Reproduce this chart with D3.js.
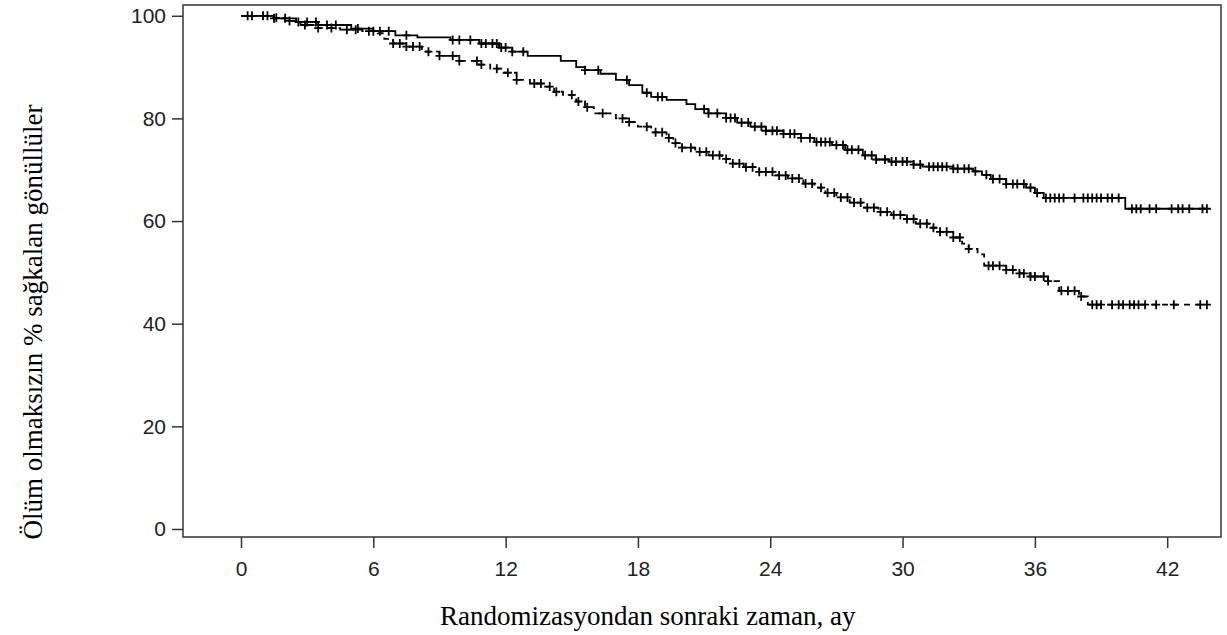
<!DOCTYPE html>
<html>
<head>
<meta charset="utf-8">
<script src="https://cdn.jsdelivr.net/npm/d3@7"></script>
<style>
  body { margin: 0; background: #fff; }
  .tick text { font-family: "Liberation Sans", Arial, sans-serif; font-size: 21px; fill: #222; }
  .ttl { font-family: "Liberation Serif", "Times New Roman", serif; font-size: 27px; fill: #000; }
</style>
</head>
<body>
<svg id="chart" width="1227" height="635"></svg>
<script>
// step points [months, % surviving]
var solidSteps = [[0,100],[1.5,99.5],[2.5,98.8],[3.5,98.2],[5,97.5],[6,97],[7,96.2],[8,95.8],[9.5,95.3],[10.8,94.6],[11.7,93.8],[12.3,93],[13,92.2],[14.5,91.2],[15.2,90],[15.6,89.4],[16.3,88.7],[17,87.5],[17.6,86.5],[18.2,85],[18.6,84.2],[19.3,83.6],[20.2,82.8],[20.6,81.8],[21.2,81],[22,80.1],[22.5,79.2],[23.1,78.4],[23.8,77.6],[24.6,77],[25.4,76.2],[26,75.4],[26.8,74.8],[27.4,73.9],[28.2,72.8],[28.8,72],[29.4,71.6],[30.5,71],[30.9,70.6],[32.3,70.2],[33.2,69.7],[33.6,69],[34,68.2],[34.7,67.2],[35.6,66.5],[36,65.5],[36.4,64.5],[40.1,62.4]];
var dashedSteps = [[0,100],[1.5,99.6],[2,99],[2.7,98.2],[3.3,97.6],[4.5,97.3],[5.5,97],[6.2,96.6],[6.5,95.5],[6.9,94.6],[7.5,94],[8.2,93],[9,92.2],[9.9,91.2],[10.8,90.5],[11.3,89.7],[11.9,88.9],[12.5,87.5],[13.1,86.8],[13.7,86.2],[14.2,85.2],[14.6,84.6],[15.2,83.3],[15.6,82.2],[16,81],[17,80],[17.6,79.3],[18,78.4],[18.6,77.3],[19.3,76.2],[19.6,75.2],[20,74.3],[20.6,73.5],[21.2,72.8],[21.8,72.1],[22.3,71.2],[22.8,70.5],[23.5,69.6],[24.2,68.9],[24.8,68.3],[25.5,67.3],[26,66.5],[26.5,65.5],[27,64.6],[27.6,63.6],[28.2,62.6],[28.9,61.8],[29.5,61.2],[30.1,60.4],[30.6,59.5],[31.2,58.7],[31.7,57.9],[32.3,56.8],[32.7,55.6],[33,54.6],[33.4,53.5],[33.7,51.3],[34.7,50.5],[35.3,49.8],[35.8,49.2],[36.6,48.3],[37.1,46.4],[38,45.3],[38.4,43.7]];
var lastTime = 43.8;

// censored times
var solidCensor = [0.3,1.2,1.5,2.0,2.6,3.0,3.4,3.9,4.3,5.3,6.0,6.3,6.7,7.5,9.6,9.9,10.4,10.9,11.1,11.4,11.6,11.8,12.0,12.3,12.8,15.6,16.2,17.5,18.4,18.9,19.1,21.0,21.2,21.6,22.0,22.2,22.4,22.7,23.0,23.3,23.6,23.8,24.1,24.3,24.6,24.9,25.1,25.4,25.8,26.1,26.3,26.5,26.7,27.0,27.3,27.5,27.7,28.0,28.3,28.6,28.8,29.2,29.5,29.7,30.0,30.2,30.5,30.8,31.2,31.4,31.6,31.8,32.0,32.3,32.5,32.8,33.0,33.3,33.8,34.1,34.4,34.7,35.0,35.2,35.5,35.8,36.1,36.5,36.7,36.9,37.1,37.3,37.8,38.2,38.4,38.6,38.8,39.0,39.3,39.5,39.8,40.4,40.6,40.8,41.2,41.5,42.2,42.5,42.7,43.0,43.6,43.8];
var dashedCensor = [0.5,1.0,1.6,2.2,2.9,3.5,4.1,4.8,5.2,5.8,6.9,7.2,7.5,7.8,8.1,8.5,9.0,9.6,9.9,10.7,10.9,11.6,12.1,12.5,13.3,13.6,14.0,14.3,15.0,15.3,15.7,16.4,17.3,17.6,18.4,18.8,19.1,19.4,19.7,20.0,20.4,20.8,21.1,21.4,21.7,22.0,22.3,22.6,22.9,23.2,23.5,23.8,24.1,24.4,24.7,25.0,25.3,25.6,25.9,26.3,26.6,26.9,27.2,27.5,27.8,28.1,28.4,28.7,29.0,29.3,29.6,29.9,30.2,30.5,30.8,31.1,31.4,31.7,32.0,32.3,32.6,33.0,33.9,34.1,34.4,34.7,35.0,35.3,35.5,35.8,36.0,36.4,36.6,37.2,37.5,37.8,38.1,38.6,38.8,39.0,39.5,39.8,40.0,40.3,40.5,40.7,41.0,41.5,42.3,43.5,43.8];

var xTicks = [0,6,12,18,24,30,36,42];
var yTicks = [0,20,40,60,80,100];

var svg = d3.select("#chart");
var plotL = 183, plotR = 1221, plotT = 5, plotB = 537;

var x = d3.scaleLinear().domain([-2.63, 44.44]).range([plotL, plotR]);
var y = d3.scaleLinear().domain([-1.56, 102.1]).range([plotB, plotT]);

// frame
svg.append("rect")
  .attr("x", plotL).attr("y", plotT)
  .attr("width", plotR - plotL).attr("height", plotB - plotT)
  .attr("fill", "none").attr("stroke", "#333").attr("stroke-width", 1.5);

var xAxis = svg.append("g")
  .attr("transform", "translate(0," + plotB + ")")
  .call(d3.axisBottom(x).tickValues(xTicks).tickSize(11).tickPadding(13));
var yAxis = svg.append("g")
  .attr("transform", "translate(" + plotL + ",0)")
  .call(d3.axisLeft(y).tickValues(yTicks).tickSize(11).tickPadding(6));
[xAxis, yAxis].forEach(function(g) {
  g.select(".domain").remove();
  g.selectAll(".tick line").attr("stroke", "#333").attr("stroke-width", 1.5);
});

function stepPts(steps) {
  var pts = steps.slice();
  pts.push([lastTime, steps[steps.length - 1][1]]);
  return pts;
}
var line = d3.line()
  .x(function(d) { return x(d[0]); })
  .y(function(d) { return y(d[1]); })
  .curve(d3.curveStepAfter);

var bis = d3.bisector(function(d) { return d[0]; }).right;
function valueAt(steps, t) {
  return steps[Math.max(0, bis(steps, t) - 1)][1];
}

function drawCurve(steps, censor, dash) {
  svg.append("path")
    .datum(stepPts(steps))
    .attr("d", line)
    .attr("fill", "none")
    .attr("stroke", "#000")
    .attr("stroke-width", 1.8)
    .attr("stroke-dasharray", dash);
  svg.append("g").selectAll("path")
    .data(censor)
    .enter().append("path")
    .attr("transform", function(t) { return "translate(" + x(t) + "," + y(valueAt(steps, t)) + ")"; })
    .attr("d", "M-4,0H4M0,-4.5V4.5")
    .attr("stroke", "#000")
    .attr("stroke-width", 1.8);
}
drawCurve(solidSteps, solidCensor, null);
drawCurve(dashedSteps, dashedCensor, "6,5");

svg.append("text")
  .attr("class", "ttl")
  .attr("x", 440).attr("y", 625)
  .text("Randomizasyondan sonraki zaman, ay");

svg.append("text")
  .attr("class", "ttl")
  .attr("transform", "translate(42,322) rotate(-90)")
  .attr("text-anchor", "middle")
  .text("Ölüm olmaksızın % sağkalan gönüllüler");
</script>
</body>
</html>
